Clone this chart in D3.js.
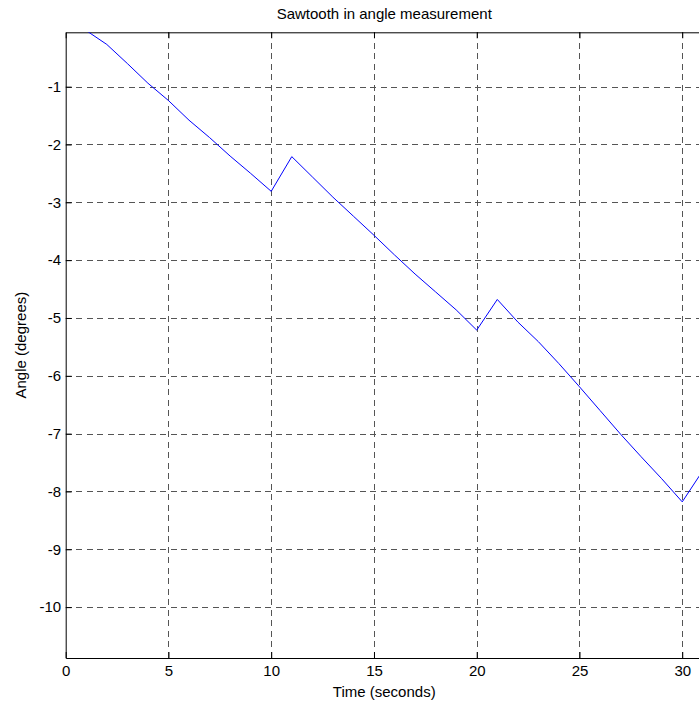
<!DOCTYPE html>
<html>
<head>
<meta charset="utf-8">
<script src="https://cdn.jsdelivr.net/npm/d3@7"></script>
<style>
  html, body { margin: 0; padding: 0; background: #fff; }
  svg { display: block; }
  text { font-family: "Liberation Sans", Arial, Helvetica, sans-serif; fill: #000; }
</style>
</head>
<body>
<svg id="chart" width="699" height="704"></svg>
<script>
// Sampled angle measurement, one sample per second
const timeSeconds = [1, 2, 3, 4, 5, 6, 7, 8, 9, 10,
                     11, 12, 13, 14, 15, 16, 17, 18, 19, 20,
                     21, 22, 23, 24, 25, 26, 27, 28, 29, 30, 31];
const angleDegrees = [-0.03, -0.27, -0.60, -0.94, -1.24, -1.58, -1.88, -2.20, -2.50, -2.81,
                      -2.21, -2.56, -2.91, -3.24, -3.57, -3.91, -4.24, -4.55, -4.86, -5.21,
                      -4.68, -5.07, -5.41, -5.79, -6.19, -6.60, -7.01, -7.40, -7.78, -8.18, -7.64];
const xTicks = [0, 5, 10, 15, 20, 25, 30];
const yTicks = [-1, -2, -3, -4, -5, -6, -7, -8, -9, -10];
const xLimits = [0, 31];
const yLimits = [-10.88, -0.06];

const svg = d3.select("#chart");
const plotLeft = 65.7, plotTop = 32.3, plotBottom = 658, plotRight = 702.8;
const fontSize = 15;

const x = d3.scaleLinear().domain(xLimits).range([plotLeft, plotRight]);
const y = d3.scaleLinear().domain(yLimits).range([plotBottom, plotTop]);

svg.append("defs").append("clipPath").attr("id", "plotArea")
  .append("rect").attr("x", plotLeft).attr("y", plotTop)
  .attr("width", plotRight - plotLeft).attr("height", plotBottom - plotTop);

// Dashed grid
const grid = svg.append("g").attr("stroke", "#555").attr("stroke-width", 1)
  .attr("stroke-dasharray", "6,4.5").attr("shape-rendering", "crispEdges");
grid.selectAll("line.v").data(xTicks.filter(d => d !== xLimits[0])).join("line")
  .attr("class", "v")
  .attr("x1", d => Math.round(x(d)) + 0.5).attr("x2", d => Math.round(x(d)) + 0.5)
  .attr("y1", plotTop).attr("y2", plotBottom);
grid.selectAll("line.h").data(yTicks).join("line")
  .attr("class", "h")
  .attr("x1", plotLeft).attr("x2", plotRight)
  .attr("y1", d => Math.round(y(d)) + 0.5).attr("y2", d => Math.round(y(d)) + 0.5);

// Axes with inward ticks; labels use a plain hyphen for negatives
const tickLen = 6;
const plain = d => String(d);
const xAxisBottom = d3.axisBottom(x).tickValues(xTicks).tickFormat(plain)
  .tickSizeInner(-tickLen).tickSizeOuter(0).tickPadding(10);
const xAxisTop = d3.axisTop(x).tickValues(xTicks).tickSizeInner(-tickLen).tickSizeOuter(0).tickFormat("");
const yAxisLeft = d3.axisLeft(y).tickValues(yTicks).tickFormat(plain)
  .tickSizeInner(-tickLen).tickSizeOuter(0).tickPadding(10);

function styleAxis(g) {
  g.selectAll("path.domain").attr("stroke", "#000").attr("stroke-width", 1);
  g.selectAll(".tick line").attr("stroke", "#000").attr("stroke-width", 1);
  g.selectAll(".tick text").attr("font-size", fontSize)
    .style("font-family", "'Liberation Sans', Arial, Helvetica, sans-serif").attr("fill", "#000");
}

svg.append("g").attr("transform", `translate(0,${plotBottom})`).call(xAxisBottom).call(styleAxis)
  .selectAll(".tick text").attr("dy", "0.71em").attr("y", 7);
svg.append("g").attr("transform", `translate(0,${plotTop})`).call(xAxisTop).call(styleAxis);
svg.append("g").attr("transform", `translate(${plotLeft},0)`).call(yAxisLeft).call(styleAxis)
  .selectAll(".tick text").attr("x", -4.5);

// Measurement trace
const pts = timeSeconds.map((t, i) => [t, angleDegrees[i]]);
svg.append("path")
  .datum(pts)
  .attr("clip-path", "url(#plotArea)")
  .attr("fill", "none")
  .attr("stroke", "#0000ff")
  .attr("stroke-width", 1)
  .attr("d", d3.line().x(d => x(d[0])).y(d => y(d[1])));

// Titles
svg.append("text")
  .attr("x", (plotLeft + plotRight) / 2).attr("y", 19.3)
  .attr("text-anchor", "middle").attr("font-size", fontSize)
  .text("Sawtooth in angle measurement");

svg.append("text")
  .attr("x", (plotLeft + plotRight) / 2).attr("y", 697)
  .attr("text-anchor", "middle").attr("font-size", fontSize)
  .text("Time (seconds)");

svg.append("text")
  .attr("transform", `translate(26,${(plotTop + plotBottom) / 2}) rotate(-90)`)
  .attr("text-anchor", "middle").attr("font-size", fontSize)
  .text("Angle (degrees)");
</script>
</body>
</html>
